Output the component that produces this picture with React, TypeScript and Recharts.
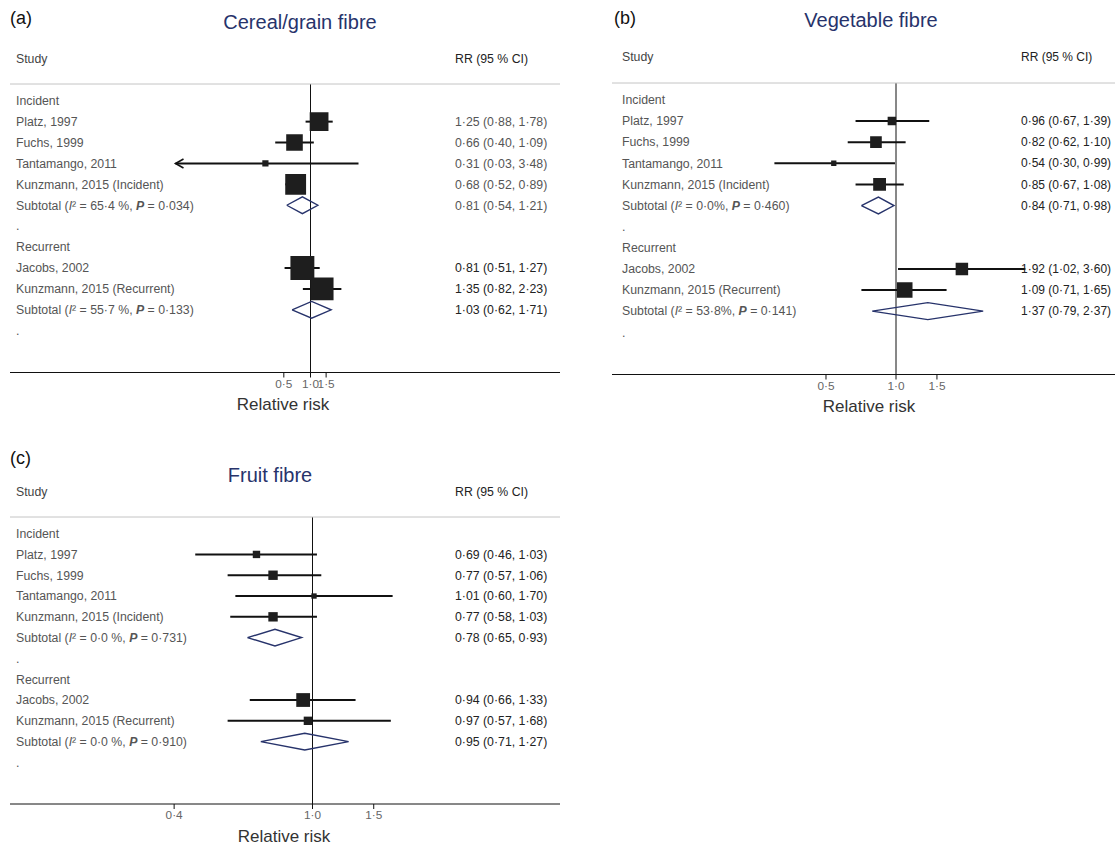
import React from "react";
import {
  ScatterChart,
  Scatter,
  XAxis,
  YAxis,
  ZAxis,
  ErrorBar,
  ReferenceLine,
  ReferenceDot,
} from "recharts";

const FONT = '"Liberation Sans", Arial, Helvetica, sans-serif';
const NAVY = "#27336b";

// shared study list (same order in every panel)
const groups = ["Incident", "Recurrent"];
const studies = [
  "Platz, 1997",
  "Fuchs, 1999",
  "Tantamango, 2011",
  "Kunzmann, 2015 (Incident)",
  "Jacobs, 2002",
  "Kunzmann, 2015 (Recurrent)",
];
const studyGroup = [0, 0, 0, 0, 1, 1];

// (a) cereal/grain fibre
const cerealRR = [1.25, 0.66, 0.31, 0.68, 0.81, 1.35];
const cerealLo = [0.88, 0.4, 0.03, 0.52, 0.51, 0.82];
const cerealHi = [1.78, 1.09, 3.48, 0.89, 1.27, 2.23];
const cerealWeight = [32, 25, 3.5, 39.5, 52, 48];
const cerealSubRR = [0.81, 1.03];
const cerealSubLo = [0.54, 0.62];
const cerealSubHi = [1.21, 1.71];
const cerealI2 = ["65·4 %", "55·7 %"];
const cerealP = ["0·034", "0·133"];
const cerealTicks = [0.5, 1, 1.5];

// (b) vegetable fibre
const vegRR = [0.96, 0.82, 0.54, 0.85, 1.92, 1.09];
const vegLo = [0.67, 0.62, 0.3, 0.67, 1.02, 0.71];
const vegHi = [1.39, 1.1, 0.99, 1.08, 3.6, 1.65];
const vegWeight = [18, 34, 7, 41, 39, 61];
const vegSubRR = [0.84, 1.37];
const vegSubLo = [0.71, 0.79];
const vegSubHi = [0.98, 2.37];
const vegI2 = ["0·0%", "53·8%"];
const vegP = ["0·460", "0·141"];
const vegTicks = [0.5, 1, 1.5];

// (c) fruit fibre
const fruitRR = [0.69, 0.77, 1.01, 0.77, 0.94, 0.97];
const fruitLo = [0.46, 0.57, 0.6, 0.58, 0.66, 0.57];
const fruitHi = [1.03, 1.06, 1.7, 1.03, 1.33, 1.68];
const fruitWeight = [21, 34, 11, 34, 73, 27];
const fruitSubRR = [0.78, 0.95];
const fruitSubLo = [0.65, 0.71];
const fruitSubHi = [0.93, 1.27];
const fruitI2 = ["0·0 %", "0·0 %"];
const fruitP = ["0·731", "0·910"];
const fruitTicks = [0.4, 1, 1.5];

const fmt = (v: number, d = 2) => v.toFixed(d).replace(".", "·");
const ln = Math.log;

type Panel = {
  tag: string;
  title: string;
  rr: number[];
  lo: number[];
  hi: number[];
  weight: number[];
  subRR: number[];
  subLo: number[];
  subHi: number[];
  i2: string[];
  p: string[];
  ticks: number[];
  arrowLeft: string[];
  // layout
  left: number;
  right: number;
  headerY: number;
  axisY: number;
  nullX: number;
  pxPerLn: number;
  boxScale: number;
  labelX: number;
  rrX: number;
  rrFont: number;
  titleX: number;
  tagX: number;
  tagY: number;
  titleY: number;
  studyY: number;
  xlabX: number;
  xlabY: number;
  rrColors: string[];
};

const panels: Panel[] = [
  {
    tag: "(a)", title: "Cereal/grain fibre",
    rr: cerealRR, lo: cerealLo, hi: cerealHi, weight: cerealWeight,
    subRR: cerealSubRR, subLo: cerealSubLo, subHi: cerealSubHi, i2: cerealI2, p: cerealP,
    ticks: cerealTicks, arrowLeft: ["Tantamango, 2011"],
    left: 10, right: 560, headerY: 83.5, axisY: 372, nullX: 310.5, pxPerLn: 38.5, boxScale: 11,
    labelX: 16, rrX: 455, rrFont: 12.3, titleX: 300, tagX: 10, tagY: 18, titleY: 22, studyY: 59,
    xlabX: 283, xlabY: 404, rrColors: ["#555", "#222"],
  },
  {
    tag: "(b)", title: "Vegetable fibre",
    rr: vegRR, lo: vegLo, hi: vegHi, weight: vegWeight,
    subRR: vegSubRR, subLo: vegSubLo, subHi: vegSubHi, i2: vegI2, p: vegP,
    ticks: vegTicks, arrowLeft: [],
    left: 612, right: 1130, headerY: 82.5, axisY: 374, nullX: 896, pxPerLn: 101, boxScale: 4,
    labelX: 622, rrX: 1021, rrFont: 12, titleX: 871, tagX: 614, tagY: 18, titleY: 20, studyY: 57,
    xlabX: 869, xlabY: 406, rrColors: ["#222", "#222"],
  },
  {
    tag: "(c)", title: "Fruit fibre",
    rr: fruitRR, lo: fruitLo, hi: fruitHi, weight: fruitWeight,
    subRR: fruitSubRR, subLo: fruitSubLo, subHi: fruitSubHi, i2: fruitI2, p: fruitP,
    ticks: fruitTicks, arrowLeft: [],
    left: 10, right: 560, headerY: 517, axisY: 804, nullX: 312.5, pxPerLn: 151, boxScale: 2.6,
    labelX: 16, rrX: 455, rrFont: 12.3, titleX: 270, tagX: 10, tagY: 458, titleY: 475, studyY: 492,
    xlabX: 284, xlabY: 836, rrColors: ["#222", "#222"],
  },
];

type Row = { kind: "group" | "study" | "sub" | "dot"; text: string; g: number; i2?: string; p?: string; rr?: string };

function buildRows(pn: Panel) {
  const rows: Row[] = [];
  const studyRow: number[] = [];
  const subRow: number[] = [];
  groups.forEach((g, gi) => {
    rows.push({ kind: "group", text: g, g: gi });
    studies.forEach((s, si) => {
      if (studyGroup[si] !== gi) return;
      studyRow[si] = rows.length;
      rows.push({
        kind: "study", text: s, g: gi,
        rr: `${fmt(pn.rr[si])} (${fmt(pn.lo[si])}, ${fmt(pn.hi[si])})`,
      });
    });
    subRow[gi] = rows.length;
    rows.push({
      kind: "sub", text: "Subtotal", g: gi, i2: pn.i2[gi], p: pn.p[gi],
      rr: `${fmt(pn.subRR[gi])} (${fmt(pn.subLo[gi])}, ${fmt(pn.subHi[gi])})`,
    });
    rows.push({ kind: "dot", text: ".", g: gi });
  });
  return { rows, studyRow, subRow };
}

const Txt = ({ x, y, size, color = "#444", center = false, children }: any) => (
  <div
    style={{
      position: "absolute", left: x, top: y, fontSize: size, color, fontFamily: FONT,
      lineHeight: 1, whiteSpace: "nowrap",
      transform: center ? "translate(-50%,-50%)" : "translateY(-50%)",
    }}
  >
    {children}
  </div>
);

function ArrowHead(props: any) {
  const { cx, cy } = props;
  return (
    <path
      d={`M${cx + 8},${cy - 4.5} L${cx},${cy} L${cx + 8},${cy + 4.5}`}
      fill="none" stroke="#111" strokeWidth={1.6}
    />
  );
}

const TXT = 12.3;

function ForestPanel({ pn }: { pn: Panel }) {
  const { rows, studyRow, subRow } = buildRows(pn);
  const svgLeft = pn.left - 1;
  const W = pn.right - pn.left + 2;
  const plotH = pn.axisY - pn.headerY;
  const xDom = [(pn.left - pn.nullX) / pn.pxPerLn, (pn.right - pn.nullX) / pn.pxPerLn];
  const yDom = [-0.8, 13];
  const rowTicks = rows.map((_, i) => i);

  const studyData = studies.map((s, i) => ({
    name: s,
    x: ln(pn.rr[i]),
    y: studyRow[i],
    w: pn.weight[i],
    err: [ln(pn.rr[i]) - ln(pn.lo[i]), ln(pn.hi[i]) - ln(pn.rr[i])],
  }));

  const diamonds = groups.map((_, gi) => {
    const r = subRow[gi];
    const c = ln(pn.subRR[gi]);
    return [
      { x: ln(pn.subLo[gi]), y: r },
      { x: c, y: r - 0.4 },
      { x: ln(pn.subHi[gi]), y: r },
      { x: c, y: r + 0.4 },
      { x: ln(pn.subLo[gi]), y: r },
    ];
  });

  const labelTick = (props: any) => {
    const r = rows[props.payload.value];
    if (!r) return <g />;
    const common = { x: pn.labelX - svgLeft, y: props.y, dy: "0.35em", fontSize: TXT, fill: "#555", fontFamily: FONT };
    if (r.kind === "sub") {
      return (
        <text {...common}>
          {"Subtotal ("}
          <tspan fontStyle="italic">I</tspan>
          {`² = ${r.i2}, `}
          <tspan fontStyle="italic" fontWeight="bold">P</tspan>
          {` = ${r.p})`}
        </text>
      );
    }
    return <text {...common}>{r.text}</text>;
  };

  const rrTick = (props: any) => {
    const r = rows[props.payload.value];
    if (!r || !r.rr) return <g />;
    return (
      <text x={pn.rrX - svgLeft} y={props.y} dy="0.35em" fontSize={pn.rrFont} fill={pn.rrColors[r.g]} fontFamily={FONT}>
        {r.rr}
      </text>
    );
  };

  return (
    <>
      <Txt x={pn.tagX} y={pn.tagY} size={18} color="#111">{pn.tag}</Txt>
      <Txt x={pn.titleX} y={pn.titleY} size={20} color={NAVY} center>{pn.title}</Txt>
      <Txt x={pn.labelX} y={pn.studyY} size={TXT} color="#444">Study</Txt>
      <Txt x={pn.rrX} y={pn.studyY} size={pn.rrFont} color="#222">RR (95 % CI)</Txt>
      <Txt x={pn.xlabX} y={pn.xlabY} size={17} color="#333" center>Relative risk</Txt>
      <div style={{ position: "absolute", left: svgLeft, top: pn.headerY - 1 }}>
        <ScatterChart
          width={W}
          height={plotH + 1 + 30}
          margin={{ top: 0, right: 0, bottom: 0, left: 0 }}
        >
          <XAxis
            xAxisId="top" orientation="top" type="number" dataKey="x"
            domain={xDom} allowDataOverflow height={1} tick={false} tickLine={false}
            axisLine={{ stroke: "#c4c4c4" }}
          />
          <XAxis
            xAxisId="b" type="number" dataKey="x" domain={xDom} allowDataOverflow
            ticks={pn.ticks.map(ln)} interval={0} height={30} tickSize={5}
            tickFormatter={(v: number) => fmt(Math.exp(v), 1)}
            axisLine={{ stroke: "#111" }} tickLine={{ stroke: "#111" }}
            tick={{ fontSize: 11.8, fill: "#666", fontFamily: FONT }}
          />
          <YAxis
            yAxisId="l" type="number" dataKey="y" domain={yDom} reversed allowDataOverflow
            width={1} ticks={rowTicks} interval={0}
            axisLine={false} tickLine={false} tick={labelTick}
          />
          <YAxis
            yAxisId="r" orientation="right" type="number" domain={yDom} reversed allowDataOverflow
            width={1} ticks={rowTicks} interval={0}
            axisLine={false} tickLine={false} tick={rrTick}
          />
          <ZAxis type="number" dataKey="w" domain={[0, 100]} range={[0, 100 * pn.boxScale]} />
          <ReferenceLine xAxisId="b" yAxisId="l" x={0} stroke="#111" strokeWidth={1} />
          <Scatter
            xAxisId="b" yAxisId="l" data={studyData} fill="#1e1e1e" shape="square"
            isAnimationActive={false}
          >
            <ErrorBar dataKey="err" direction="x" width={0} stroke="#111" strokeWidth={2} />
          </Scatter>
          {diamonds.map((d, i) => (
            <Scatter
              key={i} xAxisId="b" yAxisId="l" data={d}
              line={{ stroke: NAVY, strokeWidth: 1.4 }} lineType="joint"
              shape={() => <g />} isAnimationActive={false}
            />
          ))}
          {studies.map((s, i) =>
            pn.arrowLeft.includes(s) ? (
              <ReferenceDot
                key={s} xAxisId="b" yAxisId="l" x={ln(pn.lo[i])} y={studyRow[i]}
                shape={ArrowHead}
              />
            ) : null
          )}
        </ScatterChart>
      </div>
    </>
  );
}

export default function App() {
  return (
    <div
      style={{
        position: "absolute", left: 0, top: 0, width: 1115, height: 849,
        overflow: "hidden", background: "#fff",
      }}
    >
      {panels.map((pn) => (
        <ForestPanel key={pn.tag} pn={pn} />
      ))}
    </div>
  );
}
